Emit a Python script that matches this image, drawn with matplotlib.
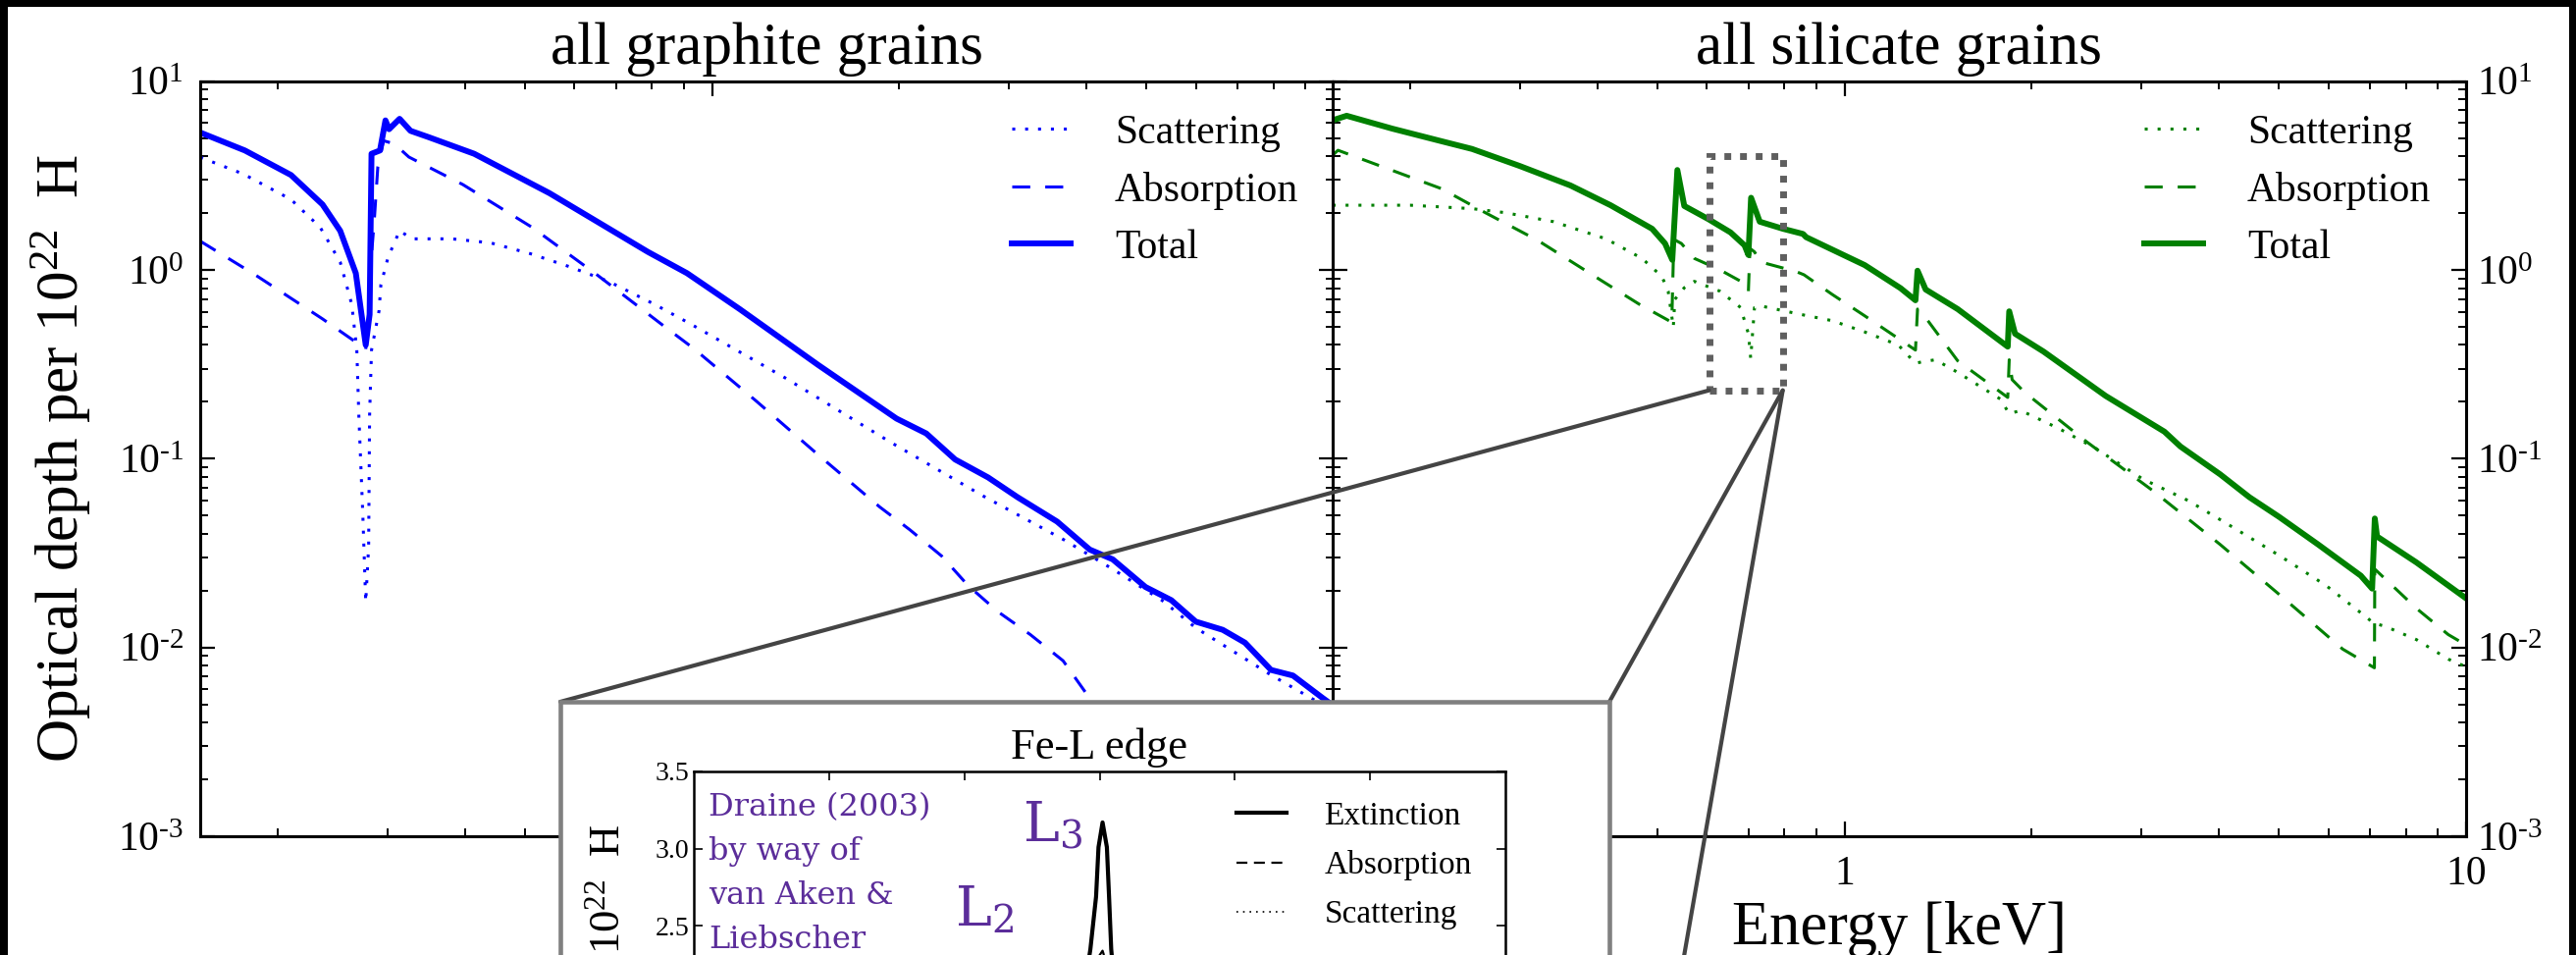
import math
import matplotlib
matplotlib.use("Agg")
import matplotlib.pyplot as plt
import matplotlib.ticker as mticker
from matplotlib.patches import Rectangle, ConnectionPatch

plt.rcParams['font.family'] = ['Liberation Serif', 'DejaVu Serif']
plt.rcParams['mathtext.fontset'] = 'custom'
plt.rcParams['mathtext.rm'] = 'Liberation Serif'
plt.rcParams['mathtext.it'] = 'Liberation Serif:italic'
plt.rcParams['mathtext.bf'] = 'Liberation Serif:bold'

# graphite grains, optical depth per 1e22 H vs energy [keV]
g_tot_E = [0.150, 0.177, 0.210, 0.236, 0.252, 0.267, 0.277, 0.281, 0.283, 0.292, 0.298,
           0.302, 0.314, 0.327, 0.350, 0.414, 0.547, 0.788, 0.911, 1.107, 1.48, 1.98,
           2.21, 2.46, 2.78, 3.10, 3.59, 4.05, 4.41, 4.98, 5.48, 6.0, 6.63, 7.2, 7.93,
           8.6, 9.6, 10.0]
g_tot = [5.34, 4.29, 3.18, 2.22, 1.61, 0.96, 0.40, 0.58, 4.12, 4.29, 6.19,
         5.56, 6.31, 5.45, 5.04, 4.12, 2.55, 1.245, 0.96, 0.62, 0.314, 0.163,
         0.136, 0.099, 0.0795, 0.0625, 0.0464, 0.033, 0.0293, 0.0209, 0.0178, 0.0137,
         0.0124, 0.0106, 0.0076, 0.0071, 0.0054, 0.0049]

g_sca_E = [0.150, 0.176, 0.210, 0.234, 0.252, 0.263, 0.268, 0.270, 0.274, 0.277, 0.280,
           0.281, 0.283, 0.291, 0.293, 0.301, 0.314, 0.329, 0.381, 0.44, 0.509, 0.589,
           0.681, 0.807, 0.922, 1.31, 1.93, 2.72, 3.68, 4.41, 5.29, 6.0, 7.9, 10.0]
g_sca = [3.95, 3.22, 2.36, 1.68, 1.10, 0.658, 0.376, 0.17, 0.051, 0.0174, 0.0344,
         0.17, 0.376, 0.607, 0.836, 1.17, 1.61, 1.46, 1.46, 1.39, 1.22, 1.04,
         0.869, 0.658, 0.518, 0.268, 0.123, 0.0638, 0.0372, 0.026, 0.0178, 0.0127, 0.0072, 0.0046]

g_abs_E = [0.150, 0.184, 0.236, 0.268, 0.277, 0.281, 0.283, 0.286, 0.2897, 0.296, 0.308,
           0.325, 0.397, 0.513, 0.653, 0.827, 0.933, 1.175, 1.48, 1.86, 2.08, 2.34,
           2.58, 2.88, 3.25, 3.67, 4.0, 4.6]
g_abs = [1.42, 0.94, 0.55, 0.411, 0.38, 0.62, 1.2, 1.86, 3.52, 4.83, 4.65,
         3.96, 2.83, 1.68, 0.94, 0.518, 0.384, 0.203, 0.105, 0.0555, 0.042, 0.0305,
         0.0213, 0.0155, 0.0117, 0.0085, 0.0057, 0.0028]

# silicate grains
s_tot_E = [0.150, 0.158, 0.187, 0.2246, 0.2514, 0.300, 0.362, 0.420, 0.490, 0.514, 0.528,
           0.538, 0.552, 0.603, 0.655, 0.690, 0.700, 0.707, 0.730, 0.796, 0.857, 0.867,
           1.077, 1.23, 1.30, 1.31, 1.35, 1.52, 1.83, 1.84, 1.88, 2.09, 2.63, 3.27,
           3.47, 4.02, 4.48, 5.0, 5.78, 6.77, 7.06, 7.13, 7.19, 8.32, 10.0]
s_tot = [6.2, 6.55, 5.6, 4.8, 4.37, 3.55, 2.8, 2.2, 1.65, 1.38, 1.13,
         3.38, 2.18, 1.86, 1.58, 1.35, 1.20, 2.41, 1.80, 1.65, 1.55, 1.49,
         1.06, 0.80, 0.69, 0.99, 0.787, 0.62, 0.392, 0.603, 0.459, 0.369, 0.215, 0.139,
         0.116, 0.0826, 0.0625, 0.0492, 0.0351, 0.024, 0.0205, 0.0482, 0.0387, 0.0282, 0.0182]

s_abs_E = [0.150, 0.153, 0.2246, 0.264, 0.321, 0.408, 0.467, 0.527, 0.531, 0.546, 0.573,
           0.630, 0.696, 0.700, 0.704, 0.716, 0.733, 0.835, 0.860, 0.955, 1.077, 1.22,
           1.30, 1.31, 1.33, 1.52, 1.83, 1.84, 1.86, 1.95, 2.45, 3.13, 4.02, 5.06,
           6.33, 7.12, 7.13, 8.32, 9.36, 10.0]
s_abs = [4.05, 4.3, 2.69, 2.01, 1.43, 0.869, 0.658, 0.528, 1.45, 1.38, 1.15,
         1.0, 0.835, 0.771, 1.3, 1.245, 1.10, 0.98, 0.942, 0.741, 0.571, 0.433,
         0.376, 0.62, 0.596, 0.33, 0.211, 0.334, 0.262, 0.224, 0.123, 0.0678, 0.0351, 0.0185,
         0.0098, 0.0078, 0.026, 0.0161, 0.0117, 0.0103]

s_sca_E = [0.150, 0.200, 0.2514, 0.284, 0.340, 0.413, 0.472, 0.508, 0.520, 0.530, 0.533,
           0.552, 0.573, 0.630, 0.680, 0.700, 0.706, 0.716, 0.733, 0.845, 0.955, 1.077,
           1.22, 1.30, 1.34, 1.40, 1.51, 1.57, 1.78, 1.84, 1.92, 2.21, 2.53, 3.02,
           3.57, 4.24, 5.02, 5.95, 6.73, 7.10, 7.41, 8.32, 9.36, 10.0]
s_sca = [2.2, 2.2, 2.11, 2.01, 1.80, 1.46, 1.15, 0.923, 0.771, 0.497, 0.698,
         0.804, 0.869, 0.771, 0.632, 0.459, 0.34, 0.632, 0.644, 0.583, 0.538, 0.469,
         0.40, 0.32, 0.327, 0.334, 0.29, 0.268, 0.207, 0.173, 0.18, 0.1446, 0.1138, 0.0779,
         0.060, 0.0428, 0.0305, 0.0213, 0.0155, 0.01345, 0.01294, 0.0110, 0.00867, 0.0079]

# Fe-L edge close-up, energy in eV
fe_E = [700.0, 705.0, 708.0, 709.0, 709.4, 709.66, 709.87, 709.96, 710.11, 710.27,
        710.35, 710.43, 710.7, 711.5, 715.0, 719.0, 720.5, 721.5, 722.5, 725.0]
fe_ext = [0.9, 1.0, 1.3, 1.8, 2.05, 2.35, 2.69, 3.01, 3.17, 3.01,
          2.69, 2.35, 1.8, 1.3, 1.1, 1.2, 1.6, 2.15, 1.5, 1.2]
fe_abs = [0.75, 0.85, 1.1, 1.55, 1.75, 2.0, 2.2, 2.3, 2.34, 2.25,
          2.1, 1.9, 1.45, 1.05, 0.9, 1.0, 1.35, 1.75, 1.25, 1.0]
fe_sca = [0.15, 0.15, 0.2, 0.25, 0.3, 0.35, 0.49, 0.71, 0.83, 0.76,
          0.59, 0.45, 0.35, 0.25, 0.2, 0.2, 0.25, 0.4, 0.25, 0.2]
fe_yticks = [2.5, 3.0, 3.5]

zoom_box = [0.605, 0.795, 0.23, 4.0]   # E0, E1, tau0, tau1 of the Fe-L window

W, H = 2625, 973
DOT = (0, (1, 3.3))
DASH = (0, (6, 5))


def pow10(v, pos):
    # 10^n with a short hyphen in the exponent
    e = str(int(round(math.log10(v)))).replace('-', '\u2010')
    return '10$^{\\mathdefault{%s}}$' % e


fig = plt.figure(figsize=(W / 100, H / 100), dpi=100, facecolor='black')
fig.add_artist(Rectangle((8 / W, 0), (2618 - 8) / W, 1 - 7 / H, transform=fig.transFigure,
                         facecolor='white', edgecolor='none', zorder=-10))

ax1 = fig.add_axes([204 / W, 1 - 852 / H, 1155 / W, 769.4 / H])
ax2 = fig.add_axes([1358 / W, 1 - 852 / H, 1155 / W, 769.4 / H])


def style(ax):
    ax.set_xscale('log')
    ax.set_yscale('log')
    ax.set_xlim(0.15, 10)
    ax.set_ylim(1e-3, 10)
    for s in ax.spines.values():
        s.set_linewidth(2.2)
    ax.tick_params(which='both', direction='in', top=True, bottom=True, left=True, right=True)
    ax.tick_params(which='major', length=11, width=1.6, labelsize=30)
    ax.tick_params(which='minor', length=6, width=1.4)
    ax.tick_params(axis='x', pad=14)
    ax.xaxis.set_major_formatter(mticker.FuncFormatter(lambda v, p: f"{v:g}"))
    ax.xaxis.set_minor_formatter(mticker.NullFormatter())
    ax.yaxis.set_major_formatter(mticker.FuncFormatter(pow10))
    ax.yaxis.set_minor_formatter(mticker.NullFormatter())


for ax in (ax1, ax2):
    style(ax)

ax1.plot(g_sca_E, g_sca, color='blue', lw=2.2, ls=DOT, label='Scattering')
ax1.plot(g_abs_E, g_abs, color='blue', lw=2.2, ls=DASH, label='Absorption')
ax1.plot(g_tot_E, g_tot, color='blue', lw=4.3, label='Total')

ax2.plot(s_sca_E, s_sca, color='green', lw=2.2, ls=DOT, label='Scattering')
ax2.plot(s_abs_E, s_abs, color='green', lw=2.2, ls=DASH, label='Absorption')
ax2.plot(s_tot_E, s_tot, color='green', lw=4.3, label='Total')

ax1.tick_params(axis='y', labelleft=True, labelright=False, pad=12)
ax1.tick_params(axis='x', labelbottom=False)
ax2.tick_params(axis='y', labelleft=False, labelright=True, pad=8)

ax1.set_title('all graphite grains', fontsize=44, pad=13)
ax2.set_title('all silicate grains', fontsize=44, pad=13)

ax1.set_ylabel('Optical depth per 10$^{\\mathdefault{22}}$  H', fontsize=44)
ax1.yaxis.set_label_coords(-0.094, 0.5)
ax2.set_xlabel('Energy [keV]', fontsize=45)
ax2.xaxis.set_label_coords(0.5, -0.086)

for ax in (ax1, ax2):
    ax.legend(loc='upper left', bbox_to_anchor=(0.716, 0.956), frameon=False, fontsize=30,
              handlelength=1.44, handletextpad=1.08, labelspacing=0.47,
              borderpad=0, borderaxespad=0)

# dotted window around the Fe-L edge
e0, e1, t0, t1 = zoom_box
ax2.add_patch(Rectangle((e0, t0), e1 - e0, t1 - t0, fill=False, edgecolor='#5f5f5f',
                        lw=5, ls=(0, (1, 1.3)), zorder=5))

# inset frame and its connectors
bx0, bx1, by0, by1 = 571 / W, 1640 / W, 1 - 1410 / H, 1 - 715 / H
fig.add_artist(Rectangle((bx0, by0), bx1 - bx0, by1 - by0, transform=fig.transFigure,
                         facecolor='white', edgecolor='#808080', lw=3.3, zorder=2))
for xy_a, xy_b in [((e0, t0), (bx0, by1)), ((e1, t0), (bx1, by1)), ((e1, t0), (bx1, by0))]:
    fig.add_artist(ConnectionPatch(xyA=xy_a, coordsA=ax2.transData, xyB=xy_b,
                                   coordsB=fig.transFigure, color='#444444', lw=3, zorder=1.5))

ax3 = fig.add_axes([707 / W, 1 - 1337 / H, 827 / W, 551 / H])
ax3.set_zorder(3)
ax3.plot(fe_E, fe_ext, color='black', lw=3, label='Extinction')
ax3.plot(fe_E, fe_abs, color='black', lw=1.6, ls=(0, (5, 3)), label='Absorption')
ax3.plot(fe_E, fe_sca, color='black', lw=1.2, ls=(0, (1, 3)), label='Scattering')
ax3.set_xlim(695, 725)
ax3.set_ylim(0, 3.5)
ax3.set_xticks([700, 705, 710, 715, 720])
ax3.set_yticks(fe_yticks)
ax3.yaxis.set_major_formatter(mticker.FormatStrFormatter('%.1f'))
for s in ax3.spines.values():
    s.set_linewidth(1.8)
ax3.tick_params(direction='in', top=True, right=True, length=6.5, width=1.2, labelsize=20,
                labelbottom=False)
ax3.set_title('Fe-L edge', fontsize=32, pad=9)
fig.text(620 / W, 1 - 840 / H, '10$^{\\mathdefault{22}}$  H', rotation=90, ha='center',
         va='top', fontsize=32, zorder=4)
ax3.legend(loc='upper left', bbox_to_anchor=(0.669, 0.945), frameon=False, fontsize=24,
           handlelength=1.53, handletextpad=1.14, labelspacing=0.585,
           borderpad=0, borderaxespad=0)

purple = '#5b2d9a'
ax3.text(0.018, 0.962, 'Draine (2003)\nby way of\nvan Aken &\nLiebscher',
         transform=ax3.transAxes, ha='left', va='top', color=purple,
         family='DejaVu Serif', fontsize=23, linespacing=1.58)
ax3.text(0.405, 0.869, 'L$_{\\mathdefault{3}}$', transform=ax3.transAxes, ha='left',
         va='baseline', color=purple, family='DejaVu Serif', fontsize=40)
ax3.text(0.322, 0.715, 'L$_{\\mathdefault{2}}$', transform=ax3.transAxes, ha='left',
         va='baseline', color=purple, family='DejaVu Serif', fontsize=40)

fig.savefig('out.png', dpi=100, facecolor='black')
